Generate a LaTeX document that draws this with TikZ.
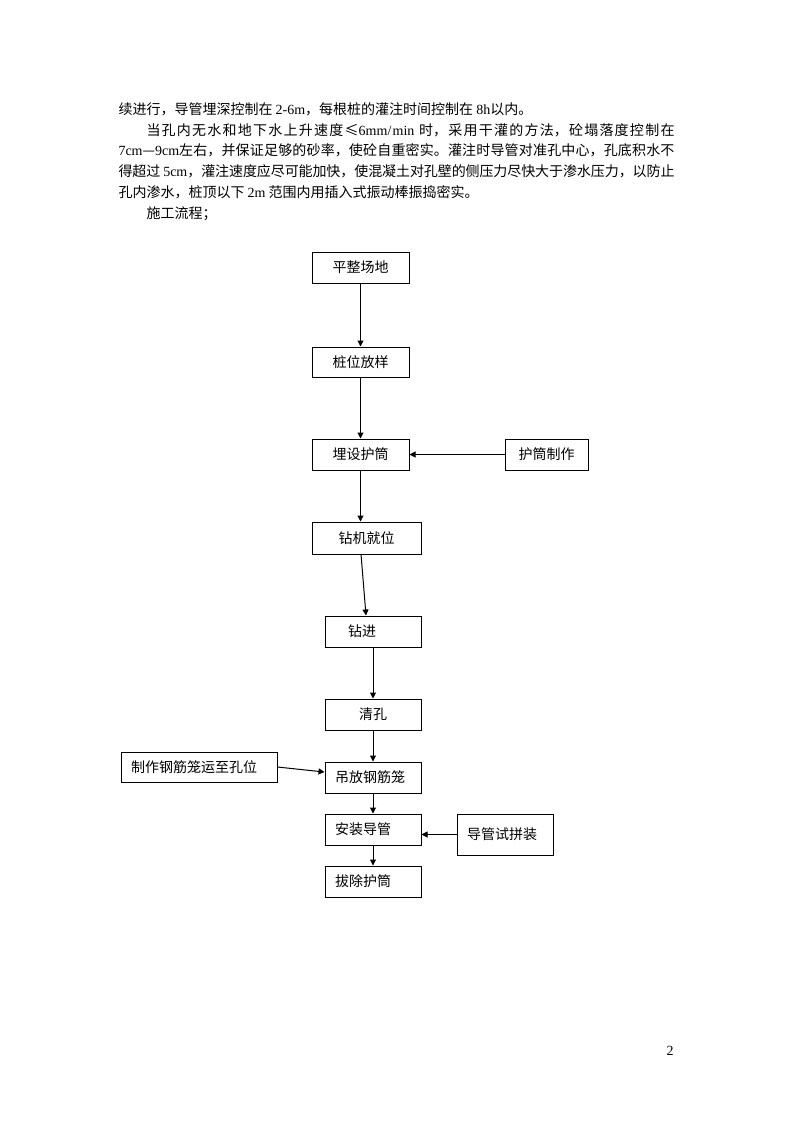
\documentclass[tikz,border=0pt]{standalone}
\usepackage{fontspec}
\setmainfont{Noto Sans CJK SC}
\newfontfamily\lat{Liberation Serif}
\usetikzlibrary{arrows,arrows.meta}
\XeTeXlinebreaklocale "zh"
\XeTeXlinebreakskip=0pt plus 1pt minus 0.4pt
\newcommand{\bodyfont}{\fontsize{10.5pt}{15.6pt}\selectfont}

\begin{document}
\begin{tikzpicture}[x=0.75pt,y=-0.75pt,>={Triangle[length=4.5pt,width=4.5pt]},line width=0.75pt,
  flow box/.style={draw,inner sep=0pt,font=\bodyfont,align=center},
  left box/.style={flow box,align=left,inner xsep=7.5pt},
  text line/.style={anchor=base west,inner sep=0pt,font=\bodyfont},
  full line/.style={text line,text width=417pt,align=justify}]

  \useasboundingbox (0,0) rectangle (794,1123);

  % text above the chart
  \node[text line] (line1) at (118,114.3) {续进行，导管埋深控制在 {\lat 2-6m}，每根桩的灌注时间控制在 {\lat 8h}以内。};
  \node[full line] (line2) at (118,135.1) {\parfillskip=0pt\relax\hspace*{2em}当孔内无水和地下水上升速度≤{\lat 6mm/min} 时，采用干灌的方法，砼塌落度控制在\par};
  \node[full line] (line3) at (118,155.9) {\parfillskip=0pt\relax{\lat 7cm}—{\lat 9cm}左右，并保证足够的砂率，使砼自重密实。灌注时导管对准孔中心，孔底积水不\par};
  \node[full line] (line4) at (118,176.7) {\parfillskip=0pt\relax 得超过 {\lat 5cm}，灌注速度应尽可能加快，使混凝土对孔壁的侧压力尽快大于渗水压力，以防止\par};
  \node[text line] (line5) at (118,197.5) {孔内渗水，桩顶以下 {\lat 2m} 范围内用插入式振动棒振捣密实。};
  \node[text line] (line6) at (118,218.3) {\hspace*{2em}施工流程；};

  % flow chart
  \node[flow box,minimum width=72.75pt,minimum height=23.25pt] (ping) at (360.5,267.5) {平整场地};
  \node[flow box,minimum width=72.75pt,minimum height=22.5pt] (zhuang) at (360.5,362) {桩位放样};
  \node[flow box,minimum width=72.75pt,minimum height=23.25pt] (maishe) at (360.5,454.5) {埋设护筒};
  \node[flow box,minimum width=62.25pt,minimum height=23.25pt] (hutong) at (546.5,454.5) {护筒制作};
  \node[flow box,minimum width=81.75pt,minimum height=24pt] (zuanji) at (366.5,538) {钻机就位};
  \node[left box,inner xsep=17.25pt,text width=37.5pt,minimum height=23.25pt] (zuanjin) at (373,631.5) {钻进};
  \node[flow box,minimum width=72pt,minimum height=23.25pt] (qingkong) at (373,714.5) {清孔};
  \node[left box,text width=57pt,minimum height=23.25pt] (diaofang) at (373,777.5) {吊放钢筋笼};
  \node[left box,text width=102pt,minimum height=22.5pt] (zhizuo) at (199,767) {制作钢筋笼运至孔位};
  \node[left box,text width=57pt,minimum height=23.25pt] (anzhuang) at (373,829.5) {安装导管};
  \node[left box,text width=57pt,minimum height=30.75pt] (shipin) at (505,834.5) {导管试拼装};
  \node[left box,text width=57pt,minimum height=23.25pt] (bachu) at (373,881.5) {拔除护筒};

  \path
    (ping) edge[->] (zhuang)
    (zhuang) edge[->] (maishe)
    (hutong) edge[->] (maishe)
    (maishe.south) edge[->] (maishe.south |- zuanji.north)
    ([xshift=-4.1pt]zuanji.south) edge[->] ([xshift=-5.25pt]zuanjin.north)
    (zuanjin) edge[->] (qingkong)
    (qingkong) edge[->] (diaofang)
    (zhizuo.east) edge[->] ([yshift=4.1pt]diaofang.west)
    (diaofang) edge[->] (anzhuang)
    (shipin.west) edge[->] (shipin.west -| anzhuang.east)
    (anzhuang) edge[->] (bachu);

  \node[anchor=base east,inner sep=0pt,font=\lat\bodyfont] (pagenum) at (674,1055) {2};
\end{tikzpicture}
\end{document}
